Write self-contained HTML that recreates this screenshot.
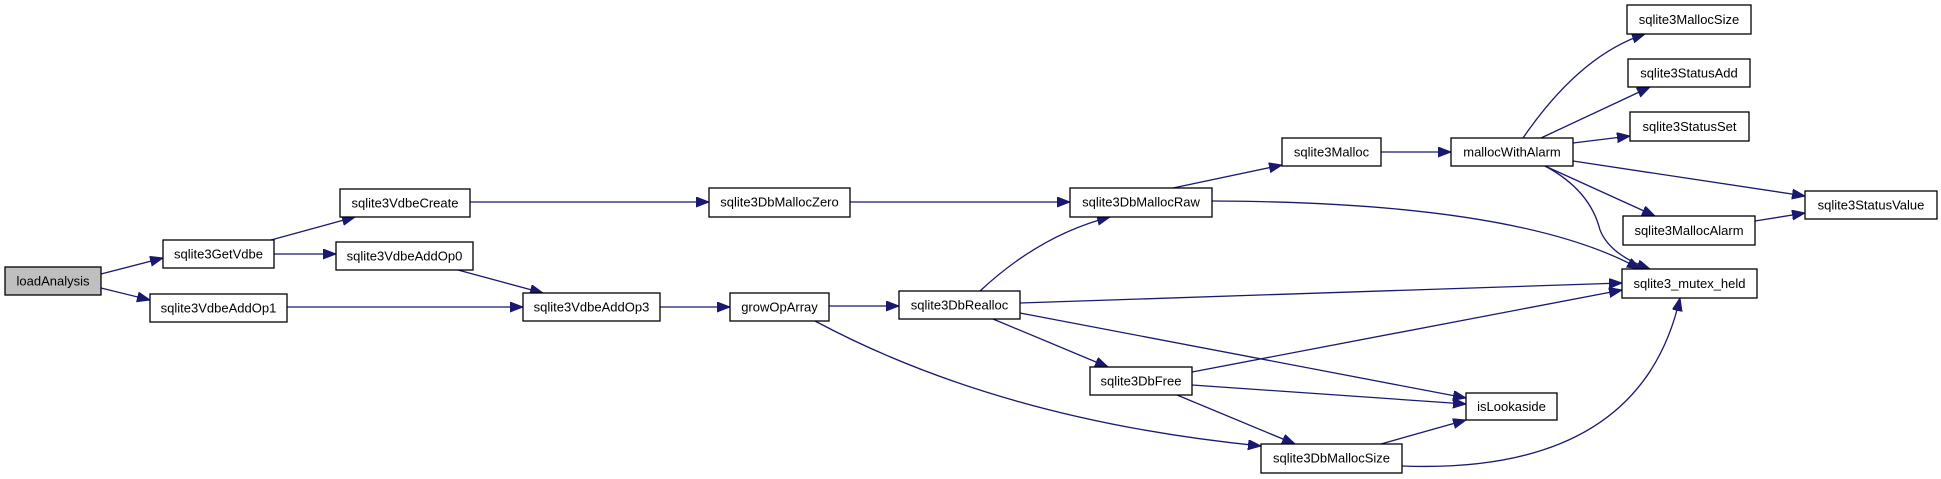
<!DOCTYPE html>
<html><head><meta charset="utf-8"><style>
html,body{margin:0;padding:0;background:#fff;}
svg{display:block;}
text{font-family:"Liberation Sans",Arial,sans-serif;font-size:13px;fill:#000;text-anchor:middle;dominant-baseline:central;}
rect{fill:#fff;stroke:#000;stroke-width:1.3;}
path{fill:none;stroke:#191970;stroke-width:1.3;}
</style></head><body>
<svg width="1941" height="479" viewBox="0 0 1941 479" xmlns="http://www.w3.org/2000/svg">
<defs>
<marker id="a" markerUnits="userSpaceOnUse" markerWidth="14" markerHeight="11" refX="13" refY="5" orient="auto">
<path d="M0,0 L13,5 L0,10 Z" style="fill:#191970;stroke:#191970;stroke-width:1"/>
</marker>
</defs>
<g marker-end="url(#a)">
<path d="M101,274 L163,258"/>
<path d="M101,288 L150,300"/>
<path d="M271,240 L355,217"/>
<path d="M274,254 L336,254"/>
<path d="M458,270 L543,293"/>
<path d="M287,307 L523,307"/>
<path d="M470,202 L709,202"/>
<path d="M850,202 L1070,202"/>
<path d="M660,307 L730,307"/>
<path d="M829,306 L899,306"/>
<path d="M980,291 Q1040,235 1110,217"/>
<path d="M1020,303 L1622,283"/>
<path d="M1020,313 L1466,398"/>
<path d="M993,319 L1108,367"/>
<path d="M815,321 Q1000,420 1261,446"/>
<path d="M1192,372 L1622,290"/>
<path d="M1192,385 L1466,404"/>
<path d="M1177,395 L1295,444"/>
<path d="M1381,444 L1466,420"/>
<path d="M1402,466 Q1640,475 1680,298"/>
<path d="M1173,188 L1282,165"/>
<path d="M1212,201 Q1520,202 1640,269"/>
<path d="M1381,152 L1451,152"/>
<path d="M1523,138 Q1580,55 1645,34"/>
<path d="M1541,138 L1650,87"/>
<path d="M1573,143 L1630,136"/>
<path d="M1573,161 L1805,196"/>
<path d="M1545,166 L1655,216"/>
<path d="M1545,166 Q1590,190 1600,230 Q1610,255 1650,269"/>
<path d="M1755,221 L1805,213"/>
</g>
<rect x="5" y="267" width="96" height="28" style="fill:#bfbfbf"/><text x="53" y="281">loadAnalysis</text>
<rect x="163" y="240" width="111" height="28"/><text x="218.5" y="254">sqlite3GetVdbe</text>
<rect x="340" y="189" width="130" height="28"/><text x="405" y="203">sqlite3VdbeCreate</text>
<rect x="336" y="242" width="137" height="28"/><text x="404.5" y="256">sqlite3VdbeAddOp0</text>
<rect x="150" y="294" width="137" height="28"/><text x="218.5" y="308">sqlite3VdbeAddOp1</text>
<rect x="523" y="293" width="137" height="28"/><text x="591.5" y="307">sqlite3VdbeAddOp3</text>
<rect x="709" y="188" width="141" height="29"/><text x="779.5" y="202">sqlite3DbMallocZero</text>
<rect x="1070" y="188" width="142" height="29"/><text x="1141" y="202">sqlite3DbMallocRaw</text>
<rect x="730" y="293" width="99" height="28"/><text x="779.5" y="307">growOpArray</text>
<rect x="899" y="291" width="121" height="28"/><text x="959.5" y="305">sqlite3DbRealloc</text>
<rect x="1090" y="367" width="102" height="28"/><text x="1141" y="381">sqlite3DbFree</text>
<rect x="1261" y="444" width="141" height="29"/><text x="1331.5" y="458">sqlite3DbMallocSize</text>
<rect x="1466" y="393" width="91" height="27"/><text x="1511.5" y="406.5">isLookaside</text>
<rect x="1282" y="138" width="99" height="28"/><text x="1331.5" y="152">sqlite3Malloc</text>
<rect x="1451" y="138" width="122" height="28"/><text x="1512" y="152">mallocWithAlarm</text>
<rect x="1627" y="5" width="124" height="29"/><text x="1689" y="19.5">sqlite3MallocSize</text>
<rect x="1628" y="59" width="122" height="28"/><text x="1689" y="73">sqlite3StatusAdd</text>
<rect x="1630" y="112" width="119" height="29"/><text x="1689.5" y="126.5">sqlite3StatusSet</text>
<rect x="1805" y="191" width="132" height="28"/><text x="1871" y="205">sqlite3StatusValue</text>
<rect x="1623" y="216" width="132" height="29"/><text x="1689" y="230.5">sqlite3MallocAlarm</text>
<rect x="1622" y="269" width="135" height="29"/><text x="1689.5" y="283.5">sqlite3_mutex_held</text>
</svg>
</body></html>
